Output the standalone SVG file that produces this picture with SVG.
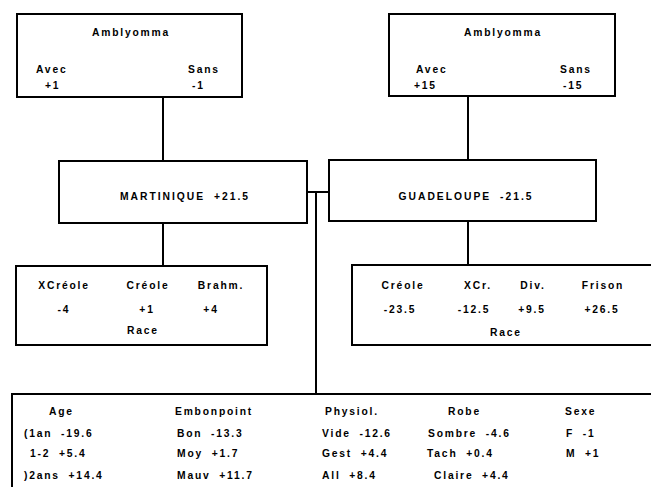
<svg xmlns="http://www.w3.org/2000/svg" width="651" height="487" viewBox="0 0 651 487">
<style>
.box{fill:#fff;stroke:#000;stroke-width:2}
.ln{fill:none;stroke:#000;stroke-width:2}
text{font-family:"Liberation Sans",Arial,sans-serif;font-weight:bold;font-size:10.3px;letter-spacing:1.8px;word-spacing:4px;fill:#000}
.m{text-anchor:middle}
.big{letter-spacing:2px}
</style>
<rect width="651" height="487" fill="#fff"/>
<g id="connectors">
<path class="ln" d="M163 97V161"/>
<path class="ln" d="M468 96V160"/>
<path class="ln" d="M163 223V266"/>
<path class="ln" d="M468 221V265"/>
<path class="ln" d="M307 192H329"/>
<path class="ln" d="M316 192V394"/>
</g>
<g id="amblyomma-m">
<rect class="box" x="17" y="14" width="225" height="83"/>
<text class="m" x="131" y="36">Amblyomma</text>
<text x="36" y="73">Avec</text>
<text x="45" y="89">+1</text>
<text x="188" y="73">Sans</text>
<text x="192" y="89">-1</text>
</g>
<g id="amblyomma-g">
<rect class="box" x="389" y="14" width="226" height="82"/>
<text class="m" x="503" y="36">Amblyomma</text>
<text x="416" y="73">Avec</text>
<text x="414" y="89">+15</text>
<text x="560" y="73">Sans</text>
<text x="563" y="89">-15</text>
</g>
<g id="martinique">
<rect class="box" x="59" y="161" width="248" height="62"/>
<text class="m big" x="185" y="200">MARTINIQUE +21.5</text>
</g>
<g id="guadeloupe">
<rect class="box" x="329" y="160" width="267" height="61"/>
<text class="m big" x="466" y="200">GUADELOUPE -21.5</text>
</g>
<g id="race-m">
<rect class="box" x="16" y="266" width="251" height="79"/>
<text class="m" x="64" y="289">XCréole</text>
<text class="m" x="148" y="289">Créole</text>
<text class="m" x="221" y="289">Brahm.</text>
<text class="m" x="64" y="313">-4</text>
<text class="m" x="147" y="313">+1</text>
<text class="m" x="211" y="313">+4</text>
<text class="m" x="143" y="334">Race</text>
</g>
<g id="race-g">
<rect class="box" x="352" y="265" width="310" height="80"/>
<text class="m" x="403" y="289">Créole</text>
<text class="m" x="478" y="289">XCr.</text>
<text class="m" x="533" y="289">Div.</text>
<text class="m" x="603" y="289">Frison</text>
<text class="m" x="400" y="313">-23.5</text>
<text class="m" x="474" y="313">-12.5</text>
<text class="m" x="532" y="313">+9.5</text>
<text class="m" x="602" y="313">+26.5</text>
<text class="m" x="506" y="336">Race</text>
</g>
<g id="facteurs">
<rect class="box" x="12" y="394" width="660" height="110"/>
<text x="49" y="415">Age</text>
<text x="24" y="437">(1an -19.6</text>
<text x="30" y="457">1-2 +5.4</text>
<text x="24" y="479">)2ans +14.4</text>
<text x="175" y="415">Embonpoint</text>
<text x="177" y="437">Bon -13.3</text>
<text x="177" y="457">Moy +1.7</text>
<text x="177" y="479">Mauv +11.7</text>
<text x="325" y="415">Physiol.</text>
<text x="322" y="437">Vide -12.6</text>
<text x="322" y="457">Gest +4.4</text>
<text x="322" y="479">All +8.4</text>
<text x="448" y="415">Robe</text>
<text x="428" y="437">Sombre -4.6</text>
<text x="427" y="457">Tach +0.4</text>
<text x="434" y="479">Claire +4.4</text>
<text x="565" y="415">Sexe</text>
<text x="566" y="437">F -1</text>
<text x="566" y="457">M +1</text>
</g>
</svg>
